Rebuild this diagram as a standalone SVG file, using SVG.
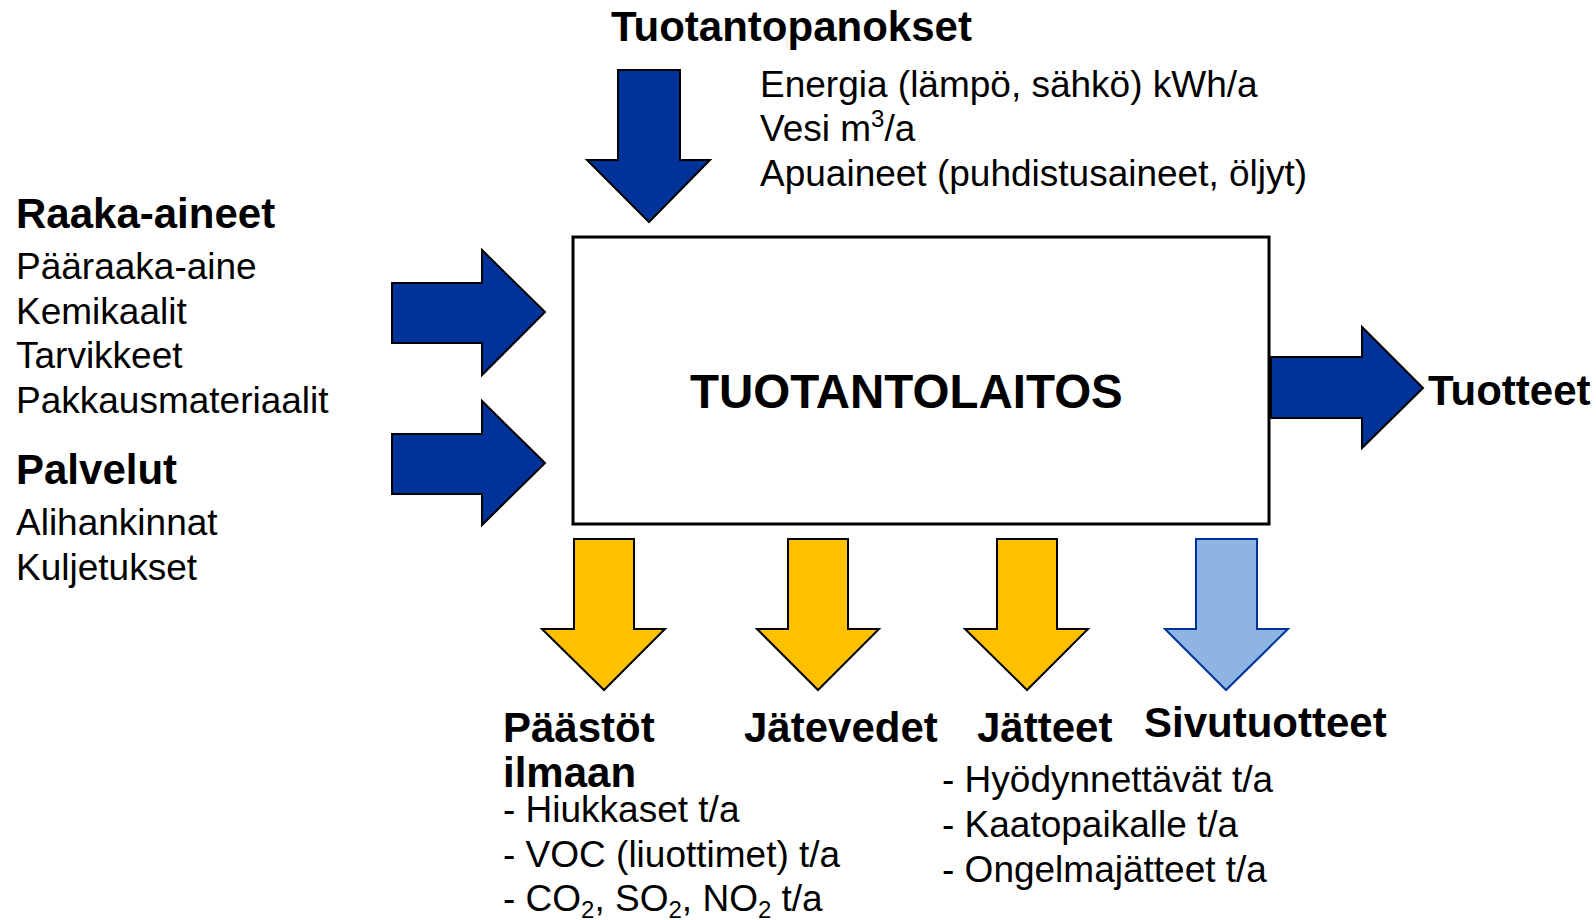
<svg xmlns="http://www.w3.org/2000/svg" width="1596" height="920" viewBox="0 0 1596 920">
  <style>
    text { font-family: "Liberation Sans", Arial, sans-serif; fill: #000; }
    .h { font-weight: bold; font-size: 42px; }
    .t { font-size: 37px; }
    .big { font-weight: bold; font-size: 47.5px; }
    .blue { fill: #003399; stroke: #000; stroke-width: 2; stroke-linejoin: miter; }
    .yellow { fill: #FFC000; stroke: #000; stroke-width: 2; }
    .light { fill: #8DB4E2; stroke: #003399; stroke-width: 2; }
  </style>
  <rect width="1596" height="920" fill="#fff"/>

  <g id="connectors">
    <path id="arrow-top" class="blue" d="M618,70 H680 V160 H710 L649,222 L587,160 H618 Z"/>
    <path id="arrow-raaka" class="blue" d="M392,283 H482 V250 L545,312 L482,375 V343 H392 Z"/>
    <path id="arrow-palvelut" class="blue" d="M392,434 H482 V401 L545,463 L482,525 V494 H392 Z"/>
    <path id="arrow-tuotteet" class="blue" d="M1271,357 H1362 V327 L1423,388 L1362,448 V418 H1271 Z"/>
    <path id="arrow-paastot" class="yellow" d="M574,539 H634 V629 H665 L604,690 L542,629 H574 Z"/>
    <path id="arrow-jatevedet" class="yellow" d="M788,539 H848 V629 H879 L818,690 L757,629 H788 Z"/>
    <path id="arrow-jatteet" class="yellow" d="M997,539 H1057 V629 H1088 L1027,690 L965,629 H997 Z"/>
    <path id="arrow-sivu" class="light" d="M1196,539 H1257 V629 H1288 L1226,690 L1165,629 H1196 Z"/>
  </g>

  <g id="node-tuotantolaitos">
    <rect x="573" y="237" width="696" height="287" fill="#fff" stroke="#000" stroke-width="3"/>
    <text class="big" x="690" y="408">TUOTANTOLAITOS</text>
  </g>

  <g id="node-tuotantopanokset">
    <text class="h" x="611" y="41">Tuotantopanokset</text>
    <text class="t" x="760" y="97">Energia (lämpö, sähkö) kWh/a</text>
    <text class="t" x="760" y="141">Vesi m<tspan font-size="24" dy="-14">3</tspan><tspan dy="14">/a</tspan></text>
    <text class="t" x="760" y="186">Apuaineet (puhdistusaineet, öljyt)</text>
  </g>

  <g id="node-raaka-aineet">
    <text class="h" x="16" y="228">Raaka-aineet</text>
    <text class="t" x="16" y="279">Pääraaka-aine</text>
    <text class="t" x="16" y="324">Kemikaalit</text>
    <text class="t" x="16" y="368">Tarvikkeet</text>
    <text class="t" x="16" y="413">Pakkausmateriaalit</text>
  </g>

  <g id="node-palvelut">
    <text class="h" x="16" y="484">Palvelut</text>
    <text class="t" x="16" y="535">Alihankinnat</text>
    <text class="t" x="16" y="580">Kuljetukset</text>
  </g>

  <g id="node-tuotteet">
    <text class="h" x="1428" y="405">Tuotteet</text>
  </g>

  <g id="node-paastot">
    <text class="h" x="503" y="742">Päästöt</text>
    <text class="h" x="503" y="787">ilmaan</text>
    <text class="t" x="503" y="822">- Hiukkaset t/a</text>
    <text class="t" x="503" y="867">- VOC (liuottimet) t/a</text>
    <text class="t" x="503" y="911">- CO<tspan font-size="24" dy="7">2</tspan><tspan dy="-7">, SO</tspan><tspan font-size="24" dy="7">2</tspan><tspan dy="-7">, NO</tspan><tspan font-size="24" dy="7">2</tspan><tspan dy="-7"> t/a</tspan></text>
  </g>

  <g id="node-jatevedet">
    <text class="h" x="744" y="742">Jätevedet</text>
  </g>

  <g id="node-jatteet">
    <text class="h" x="977" y="742">Jätteet</text>
    <text class="t" x="942" y="792">- Hyödynnettävät t/a</text>
    <text class="t" x="942" y="837">- Kaatopaikalle t/a</text>
    <text class="t" x="942" y="882">- Ongelmajätteet t/a</text>
  </g>

  <g id="node-sivutuotteet">
    <text class="h" x="1144" y="737">Sivutuotteet</text>
  </g>
</svg>
